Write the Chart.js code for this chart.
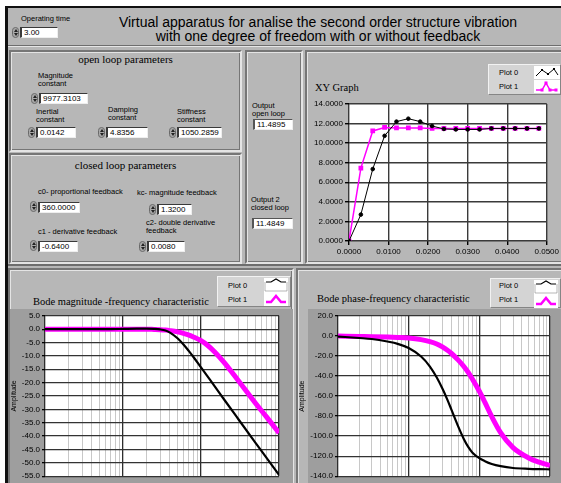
<!DOCTYPE html>
<html>
<head>
<meta charset="utf-8">
<title>Virtual apparatus</title>
<script src="https://cdn.jsdelivr.net/npm/chart.js@4.4.1/dist/chart.umd.min.js"></script>
<style>
  body { margin:0; width:561px; height:483px; overflow:hidden; background:#fff; position:relative;
         font-family:"Liberation Sans", Arial, sans-serif; color:#000; }
  #panel { position:absolute; left:5px; top:6px; width:556px; height:477px; background:#b7b7b7;
           border-left:3px solid #111; border-top:2px solid #111; box-sizing:border-box; }
  .frame { position:absolute; box-sizing:border-box; border:2px solid;
           border-color:#767676 #e4e4e4 #e4e4e4 #767676;
           box-shadow: inset 1px 1px 0 #e4e4e4, inset -1px -1px 0 #767676; }
  .t { position:absolute; white-space:nowrap; }
  .lbl { font-size:7.5px; line-height:8.3px; }
  .serif { font-family:"Liberation Serif", "Times New Roman", serif; }
  .spin { position:absolute; width:7px; height:11px; border-radius:4px; background:#a8a8a8;
          border:1px solid #6a6a6a; box-sizing:border-box; }
  .spin:before, .spin:after { content:""; position:absolute; left:0.5px;
          border-left:2px solid transparent; border-right:2px solid transparent; }
  .spin:before { top:1px; border-bottom:3px solid #222; }
  .spin:after { bottom:1px; border-top:3px solid #222; }
  .num { position:absolute; height:11px; background:#fff; font-size:8px; line-height:10px; padding-left:2px;
         box-sizing:border-box; border-left:2px solid #3a3a3a; border-top:1px solid #3a3a3a;
         border-right:1px solid #eee; border-bottom:1px solid #eee; overflow:hidden; white-space:nowrap; }
  .leg { position:absolute; background:#d4d4d4; border:1px solid; box-sizing:border-box;
         border-color:#f2f2f2 #858585 #858585 #f2f2f2; font-size:7.5px; }
  .leg svg { position:absolute; background:#fff; }
  canvas { position:absolute; }
</style>
</head>
<body>
<div id="panel"></div>

<!-- header -->
<div class="t lbl" style="left:21px;top:15px">Operating time</div>
<div class="spin" style="left:12px;top:27px"></div>
<div class="num" style="left:20px;top:27px;width:38px">3.00</div>
<div class="t" style="left:78px;top:16px;width:480px;text-align:center;font-size:14px;line-height:13.5px">
  Virtual apparatus for analise the second order structure vibration<br>with one degree of freedom with or without feedback</div>
<div style="position:absolute;left:8px;top:45px;width:553px;height:1px;background:#6e6e6e"></div>
<div style="position:absolute;left:8px;top:46px;width:553px;height:1px;background:#e6e6e6"></div>

<!-- open loop -->
<div class="frame" style="left:9px;top:50px;width:233px;height:102px"></div>
<div class="t serif" style="left:9px;top:53px;width:233px;text-align:center;font-size:11px">open loop parameters</div>
<div class="t lbl" style="left:38px;top:72px">Magnitude<br>constant</div>
<div class="spin" style="left:31px;top:93px"></div>
<div class="num" style="left:39px;top:93px;width:49px">9977.3103</div>
<div class="t lbl" style="left:36px;top:108px">Inertial<br>constant</div>
<div class="spin" style="left:28px;top:127px"></div>
<div class="num" style="left:36px;top:127px;width:40px">0.0142</div>
<div class="t lbl" style="left:108px;top:106px">Damping<br>constant</div>
<div class="spin" style="left:98px;top:127px"></div>
<div class="num" style="left:106px;top:127px;width:42px">4.8356</div>
<div class="t lbl" style="left:177px;top:108px">Stiffness<br>constant</div>
<div class="spin" style="left:169px;top:127px"></div>
<div class="num" style="left:177px;top:127px;width:45px">1050.2859</div>

<!-- closed loop -->
<div class="frame" style="left:9px;top:153px;width:233px;height:111px"></div>
<div class="t serif" style="left:9px;top:159px;width:233px;text-align:center;font-size:11px">closed loop parameters</div>
<div class="t lbl" style="left:38px;top:188px">c0- proportional feedback</div>
<div class="spin" style="left:30px;top:201px"></div>
<div class="num" style="left:38px;top:202px;width:42px">360.0000</div>
<div class="t lbl" style="left:38px;top:228px">c1 - derivative feedback</div>
<div class="spin" style="left:30px;top:240px"></div>
<div class="num" style="left:38px;top:241px;width:40px">-0.6400</div>
<div class="t lbl" style="left:137px;top:189px">kc- magnitude feedback</div>
<div class="spin" style="left:149px;top:204px"></div>
<div class="num" style="left:157px;top:204px;width:35px">1.3200</div>
<div class="t lbl" style="left:146px;top:219px">c2- double derivative<br>feedback</div>
<div class="spin" style="left:139px;top:241px"></div>
<div class="num" style="left:147px;top:241px;width:38px">0.0080</div>

<!-- outputs -->
<div class="frame" style="left:245px;top:50px;width:58px;height:214px"></div>
<div class="t lbl" style="left:252px;top:102px">Output<br>open loop</div>
<div class="num" style="left:253px;top:119px;width:40px;border-color:#555 #eee #eee #555">11.4895</div>
<div class="t lbl" style="left:251px;top:196px">Output 2<br>closed loop</div>
<div class="num" style="left:252px;top:218px;width:41px;border-color:#555 #eee #eee #555">11.4849</div>

<!-- XY graph -->
<div class="frame" style="left:305px;top:50px;width:260px;height:214px"></div>
<div class="t serif" style="left:315px;top:82px;font-size:10.5px">XY Graph</div>
<div class="leg" style="left:488px;top:64px;width:73px;height:31px">
  <div class="t" style="left:10px;top:3px">Plot 0</div>
  <div class="t" style="left:10px;top:17px">Plot 1</div>
  <svg style="left:45px;top:1px" width="26" height="13"><polyline points="2,10 8,4 14,8 20,3 24,9" fill="none" stroke="#000" stroke-width="1"/><g fill="#000"><rect x="7" y="3" width="2" height="2"/><rect x="13" y="7" width="2" height="2"/><rect x="19" y="2" width="2" height="2"/></g></svg>
  <svg style="left:45px;top:15px" width="26" height="13"><polyline points="2,10 8,10 12,3 16,10 22,10" fill="none" stroke="#f0f" stroke-width="1.5"/><g fill="#f0f"><rect x="6.5" y="8.5" width="3" height="3"/><rect x="10.5" y="1.5" width="3" height="3"/><rect x="14.5" y="8.5" width="3" height="3"/><rect x="20.5" y="8.5" width="3" height="3"/></g></svg>
</div>
<canvas id="xyGraph" width="256" height="167" style="left:305px;top:96px"></canvas>

<!-- bottom frames -->
<div style="position:absolute;left:8px;top:264px;width:553px;height:2px;background:#6e6e6e"></div>
<div class="frame" style="left:8px;top:268px;width:286px;height:220px"></div>
<div class="frame" style="left:296px;top:268px;width:270px;height:220px"></div>

<div class="t serif" style="left:33px;top:296px;font-size:10.5px">Bode magnitude -frequency characteristic</div>
<div class="leg" style="left:217px;top:276px;width:74px;height:31px">
  <div class="t" style="left:10px;top:4px">Plot 0</div>
  <div class="t" style="left:10px;top:18px">Plot 1</div>
  <svg style="left:46px;top:1px" width="24" height="14"><polyline points="2,4 7,4 12,1 17,4 22,4" fill="none" stroke="#000" stroke-width="1.2"/><polyline points="1,4 1,13 23,13 23,4" fill="none" stroke="#888" stroke-width="0.6"/></svg>
  <svg style="left:46px;top:15px" width="24" height="14"><polyline points="2,10 7,10 12,4 17,10 22,10" fill="none" stroke="#f0f" stroke-width="2.5"/></svg>
</div>
<canvas id="bodeMag" width="283" height="174" style="left:10px;top:309px"></canvas>

<div class="t serif" style="left:317px;top:293px;font-size:10.5px">Bode phase-frequency characteristic</div>
<div class="leg" style="left:490px;top:278px;width:71px;height:30px">
  <div class="t" style="left:8px;top:2px">Plot 0</div>
  <div class="t" style="left:8px;top:16px">Plot 1</div>
  <svg style="left:43px;top:1px" width="24" height="14"><polyline points="2,4 7,4 12,1 17,4 22,4" fill="none" stroke="#000" stroke-width="1.2"/><polyline points="1,4 1,13 23,13 23,4" fill="none" stroke="#888" stroke-width="0.6"/></svg>
  <svg style="left:43px;top:15px" width="24" height="14"><polyline points="2,10 7,10 12,4 17,10 22,10" fill="none" stroke="#f0f" stroke-width="2.5"/></svg>
</div>
<canvas id="bodePhase" width="263" height="174" style="left:298px;top:309px"></canvas>

<script>
// step response
var timeS      = [0, 0.003, 0.006, 0.009, 0.012, 0.015, 0.018, 0.021, 0.024, 0.027, 0.030, 0.033, 0.036, 0.039, 0.042, 0.045, 0.048];
var stepPlot0  = [0, 2.7, 7.35, 10.75, 12.2, 12.5, 12.2, 11.75, 11.45, 11.4, 11.4, 11.4, 11.5, 11.5, 11.5, 11.5, 11.5];
var stepPlot1  = [0, 7.45, 11.25, 11.6, 11.55, 11.55, 11.55, 11.5, 11.5, 11.5, 11.5, 11.5, 11.5, 11.5, 11.5, 11.5, 11.5];

// bode characteristics (frequency in Hz)
var freqHz     = [1, 2, 3, 5, 7, 10, 15, 20, 25, 30, 35, 40, 50, 60, 70, 80, 100, 120, 150, 200, 300, 500, 700, 1000];
var magPlot0   = [0, 0, 0, 0, 0, 0.1, 0.2, 0.2, 0.1, -0.1, -0.5, -1.3, -3.4, -5.8, -8.2, -10.4, -14.3, -17.5, -21.4, -26.5, -33.6, -42.5, -48.3, -54.5];
var magPlot1   = [0, 0, 0, 0, 0, 0, 0, 0, -0.1, -0.2, -0.35, -0.55, -1.0, -1.6, -2.2, -2.9, -4.3, -5.9, -8.5, -12.6, -19.2, -27.7, -33.0, -38.8];
var phasePlot0 = [-0.5, -2, -3, -5.5, -7.8, -12, -20.5, -30.5, -41.5, -52.5, -63, -73, -90, -102.5, -111, -116.5, -122, -125, -127.8, -130, -131.8, -132.6, -132.9, -133.1];
var phasePlot1 = [0, -0.4, -0.6, -1.0, -1.4, -2.0, -3.6, -5.6, -8.0, -10.9, -14.0, -17.2, -23.8, -30.2, -36.6, -43.2, -55.2, -66.3, -80.6, -96.5, -111.5, -121.8, -126, -129.3];

var xyTicksY   = [0, 2, 4, 6, 8, 10, 12, 14];

Chart.defaults.font.family = '"Liberation Sans", Arial, sans-serif';
Chart.defaults.color = '#000';

function pts(xs, ys) {
  return xs.map(function(x, i) { return {x: x, y: ys[i]}; });
}

// grey frame round the plot, white plot area
var frameBg = {
  id: 'frameBg',
  beforeDraw: function(chart, args, opts) {
    var c = chart.ctx, a = chart.chartArea;
    c.save();
    if (opts.color) {
      c.fillStyle = opts.color;
      c.fillRect(opts.left || 0, 0, chart.width, chart.height);
    }
    c.fillStyle = '#fff';
    c.fillRect(a.left, a.top, a.right - a.left, a.bottom - a.top);
    c.restore();
  }
};

// log grid lines 1..9 per decade
var logGrid = [];
[1, 10, 100].forEach(function(d) { for (var k = 1; k < 10; k++) logGrid.push(k * d); });
logGrid.push(1000);
function isDecade(v) { var m = Math.log10(v); return Math.abs(m - Math.round(m)) < 1e-6; }

// XY graph
new Chart(document.getElementById('xyGraph'), {
  type: 'line',
  data: {
    datasets: [{
      label: 'Plot 0',
      data: pts(timeS, stepPlot0),
      borderColor: '#000',
      backgroundColor: '#000',
      borderWidth: 1,
      pointRadius: 1.8,
      pointStyle: 'circle',
      tension: 0
    }, {
      label: 'Plot 1',
      data: pts(timeS, stepPlot1),
      borderColor: '#ff00ff',
      backgroundColor: '#ff00ff',
      borderWidth: 1.5,
      pointRadius: 2.3,
      pointStyle: 'rect',
      tension: 0
    }]
  },
  options: {
    responsive: false,
    animation: false,
    devicePixelRatio: 1,
    layout: { padding: { top: 8, right: 12 } },
    plugins: { legend: { display: false }, tooltip: { enabled: false }, frameBg: {} },
    scales: {
      x: {
        type: 'linear', min: 0, max: 0.05,
        ticks: { stepSize: 0.01, font: { size: 8 }, padding: 2, maxRotation: 0,
                 callback: function(v) { return v.toFixed(4); } },
        grid: { color: '#3a3a3a', lineWidth: 1.4, tickLength: 4, tickColor: '#000' },
        border: { display: false },
        afterFit: function(s) { s.height = 22; }
      },
      y: {
        min: 0, max: 14,
        afterBuildTicks: function(s) { s.ticks = xyTicksY.map(function(v) { return {value: v}; }); },
        ticks: { font: { size: 8 }, padding: 2, callback: function(v) { return v.toFixed(4); } },
        grid: { color: '#3a3a3a', lineWidth: 1.4, tickLength: 4, tickColor: '#000' },
        border: { display: false },
        afterFit: function(s) { s.width = 44; }
      }
    }
  },
  plugins: [frameBg]
});

function bode(id, y0, y1, ys, opts) {
  return new Chart(document.getElementById(id), {
    type: 'line',
    data: {
      datasets: [{
        label: 'Plot 0',
        data: pts(freqHz, y0),
        borderColor: '#000',
        borderWidth: 2.2,
        pointRadius: 0,
        cubicInterpolationMode: 'monotone'
      }, {
        label: 'Plot 1',
        data: pts(freqHz, y1),
        borderColor: '#ff00ff',
        borderWidth: 5,
        pointRadius: 0,
        cubicInterpolationMode: 'monotone'
      }]
    },
    options: {
      responsive: false,
      animation: false,
      devicePixelRatio: 1,
      layout: { padding: { top: opts.top, right: opts.right } },
      plugins: { legend: { display: false }, tooltip: { enabled: false },
                 frameBg: { color: '#9e9e9e', left: opts.frameLeft } },
      scales: {
        x: {
          type: 'logarithmic', min: 1, max: 1000,
          afterBuildTicks: function(s) { s.ticks = logGrid.map(function(v) { return {value: v}; }); },
          ticks: { display: false },
          grid: {
            drawTicks: false,
            color: function(c) { return isDecade(c.tick.value) ? '#2e2e2e' : '#c8c8c8'; },
            lineWidth: function(c) { return isDecade(c.tick.value) ? 1.3 : 1; }
          },
          border: { display: false },
          afterFit: function(s) { s.height = opts.bottom; }
        },
        y: {
          min: ys.min, max: ys.max,
          ticks: { stepSize: ys.step, font: { size: 8 }, padding: 2,
                   callback: function(v) { return v.toFixed(1); } },
          grid: { color: '#333', lineWidth: 1.3, tickLength: 3, tickColor: '#000' },
          border: { display: false },
          title: { display: true, text: 'Amplitude', font: { size: 7 }, padding: { top: 0, bottom: 0 } },
          afterFit: function(s) { s.width = opts.axisW; }
        }
      }
    },
    plugins: [frameBg]
  });
}

bode('bodeMag', magPlot0, magPlot1, { min: -55, max: 5, step: 5 },
     { top: 6, right: 14, bottom: 3, axisW: 35, frameLeft: 0 });
bode('bodePhase', phasePlot0, phasePlot1, { min: -140, max: 20, step: 20 },
     { top: 7, right: 11, bottom: 6, axisW: 40, frameLeft: 10 });
</script>
</body>
</html>
